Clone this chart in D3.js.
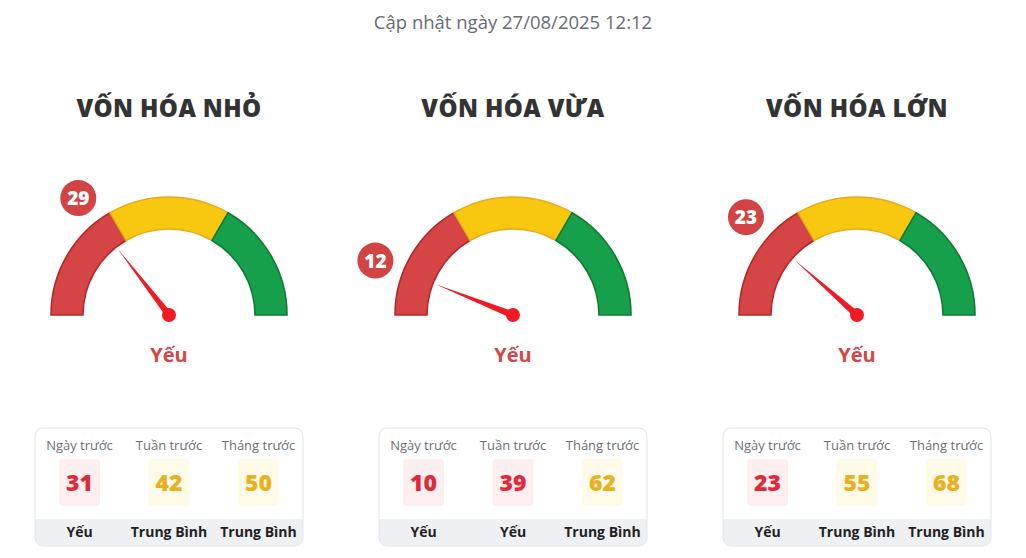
<!DOCTYPE html>
<html><head><meta charset="utf-8">
<script src="https://cdn.jsdelivr.net/npm/d3@7"></script>
<style>
html,body{margin:0;padding:0;background:#fff;}
svg{display:block;font-family:"Open Sans","Noto Sans",sans-serif;}
</style></head>
<body>
<svg id="chart" width="1026" height="558"></svg>
<script>
// ---- data ----
const updateText = "Cập nhật ngày 27/08/2025 12:12";
const groups = ["VỐN HÓA NHỎ", "VỐN HÓA VỪA", "VỐN HÓA LỚN"];
const currentValues = [29, 12, 23];
const currentLabels = ["Yếu", "Yếu", "Yếu"];
const periodNames = ["Ngày trước", "Tuần trước", "Tháng trước"];
const dayValues = [31, 10, 23];
const weekValues = [42, 39, 55];
const monthValues = [50, 62, 68];
const dayLabels = ["Yếu", "Yếu", "Yếu"];
const weekLabels = ["Trung Bình", "Yếu", "Trung Bình"];
const monthLabels = ["Trung Bình", "Trung Bình", "Trung Bình"];
const bandBreaks = [0, 33.33, 66.67, 100];
const bandNames = ["Yếu", "Trung Bình", "Mạnh"];

// ---- styles ----
const bandFill = {"Yếu": "#d64545", "Trung Bình": "#f8c70f", "Mạnh": "#17a04c"};
const bandStroke = {"Yếu": "#b32a2a", "Trung Bình": "#e7a91b", "Mạnh": "#127a35"};
const valueColor = {"Yếu": "#e02a3a", "Trung Bình": "#e9b121"};
const valueBg = {"Yếu": "#fdeff0", "Trung Bình": "#fffbe8"};

const svg = d3.select("#chart");

svg.append("text").attr("x", 513).attr("y", 29).attr("text-anchor", "middle")
  .attr("font-size", 18.5).attr("fill", "#676b72").text(updateText);

const centerX = d3.scalePoint().domain(groups).range([169, 857]);
const angle = d3.scaleLinear().domain([0, 100]).range([-Math.PI / 2, Math.PI / 2]);
const cy = 315, rOuter = 118, rInner = 86;
const arc = d3.arc().innerRadius(rInner).outerRadius(rOuter);

const periods = periodNames.map((p, k) => ({
  name: p,
  values: [dayValues, weekValues, monthValues][k],
  labels: [dayLabels, weekLabels, monthLabels][k]
}));
const colX = d3.scalePoint().domain(periodNames).range([-89.5, 89.5]);

groups.forEach((g, i) => {
  const cx = centerX(g);
  const G = svg.append("g").attr("transform", `translate(${cx},0)`);
  G.append("text").attr("x", 0).attr("y", 117).attr("text-anchor", "middle")
    .attr("font-size", 24).attr("font-weight", 800).attr("fill", "#333")
    .attr("letter-spacing", 0.4).text(g);

  const gauge = G.append("g").attr("transform", `translate(0,${cy})`);
  bandNames.forEach((b, k) => {
    gauge.append("path")
      .attr("d", arc({startAngle: angle(bandBreaks[k]), endAngle: angle(bandBreaks[k + 1])}))
      .attr("fill", bandFill[b]).attr("stroke", bandStroke[b]).attr("stroke-width", 1.6);
  });

  const v = currentValues[i];
  const a = angle(v);
  const L = 84, bw = 3.4;
  const tip = [L * Math.sin(a), -L * Math.cos(a)];
  const px = Math.cos(a), py = Math.sin(a);
  gauge.append("path")
    .attr("d", `M${tip[0]},${tip[1]} L${bw * px},${bw * py} L${-bw * px},${-bw * py} Z`)
    .attr("fill", "#ee1b24");
  gauge.append("circle").attr("r", 7).attr("fill", "#ee1b24");

  const rb = 148;
  gauge.append("circle").attr("cx", rb * Math.sin(a)).attr("cy", -rb * Math.cos(a))
    .attr("r", 18).attr("fill", "#d24343");
  gauge.append("text").attr("x", rb * Math.sin(a)).attr("y", -rb * Math.cos(a) + 7)
    .attr("text-anchor", "middle").attr("font-size", 19).attr("font-weight", 800)
    .attr("fill", "#fff").text(v);

  G.append("text").attr("x", 0).attr("y", 362).attr("text-anchor", "middle")
    .attr("font-size", 20).attr("font-weight", 700).attr("fill", "#d64545")
    .text(currentLabels[i]);

  // table
  const T = G.append("g");
  const tw = 268, tx = -134, ty = 428, th = 118;
  T.append("rect").attr("x", tx).attr("y", ty).attr("width", tw).attr("height", th)
    .attr("rx", 8).attr("fill", "#fff");
  const clipId = "clip" + i;
  T.append("clipPath").attr("id", clipId).append("rect")
    .attr("x", tx).attr("y", ty).attr("width", tw).attr("height", th).attr("rx", 8);
  T.append("rect").attr("x", tx).attr("y", 519).attr("width", tw).attr("height", 27)
    .attr("fill", "#eff0f3").attr("clip-path", `url(#${clipId})`);
  T.append("rect").attr("x", tx).attr("y", ty).attr("width", tw).attr("height", th)
    .attr("rx", 8).attr("fill", "none").attr("stroke", "#e3e5e9").attr("stroke-width", 1);

  periods.forEach(p => {
    const x = colX(p.name);
    const lab = p.labels[i];
    T.append("text").attr("x", x).attr("y", 450).attr("text-anchor", "middle")
      .attr("font-size", 13).attr("fill", "#6b6f76").text(p.name);
    T.append("rect").attr("x", x - 20.5).attr("y", 459).attr("width", 41).attr("height", 47)
      .attr("rx", 4).attr("fill", valueBg[lab]);
    T.append("text").attr("x", x).attr("y", 491).attr("text-anchor", "middle")
      .attr("font-size", 23).attr("font-weight", 800).attr("fill", valueColor[lab])
      .text(p.values[i]);
    T.append("text").attr("x", x).attr("y", 537).attr("text-anchor", "middle")
      .attr("font-size", 14).attr("font-weight", 700).attr("fill", "#222").text(lab);
  });
});
</script>
</body></html>
